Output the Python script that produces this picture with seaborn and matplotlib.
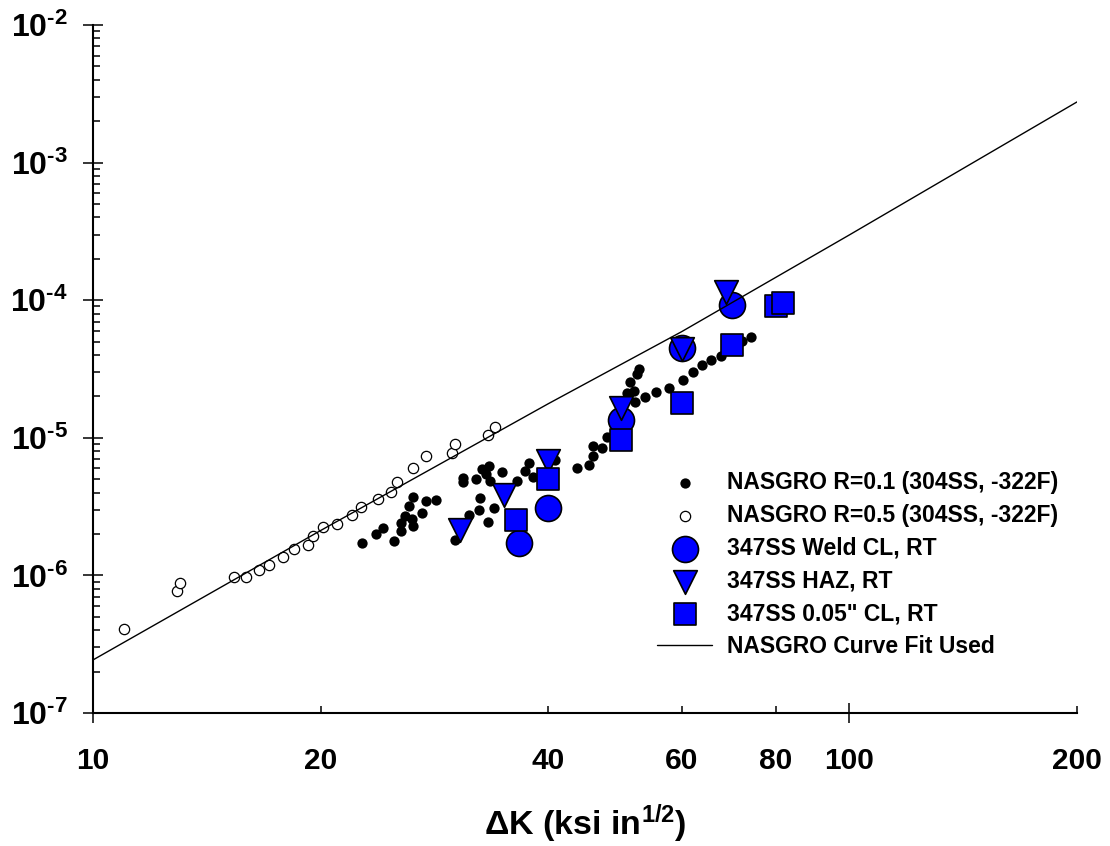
import matplotlib
matplotlib.use("Agg")
import matplotlib.pyplot as plt
import seaborn as sns
from matplotlib.ticker import FixedLocator, FuncFormatter, NullFormatter
import numpy as np

# NASGRO R=0.1 data (304SS, -322F)
dk_r01 = [22.69, 23.68, 24.19, 25.01, 25.55, 25.55, 25.86, 26.18, 26.50, 26.42,
          26.50, 27.24, 27.57, 28.42, 30.12, 30.86, 30.86, 32.11, 32.70, 33.41,
          33.10, 33.51, 34.75, 32.50, 32.40, 33.92, 31.44, 33.31, 36.38, 37.28,
          37.74, 38.19, 40.83, 43.67, 45.30, 45.85, 45.85, 47.13, 47.86, 50.86,
          51.96, 52.12, 53.73, 51.33, 52.44, 52.76, 55.56, 57.81, 60.32, 62.19,
          63.92, 65.70, 67.73, 72.22, 74.19]
dadn_r01 = [1.72e-6, 2.00e-6, 2.21e-6, 1.78e-6, 2.10e-6, 2.40e-6, 2.70e-6, 3.19e-6, 3.71e-6, 2.57e-6,
            2.29e-6, 2.84e-6, 3.47e-6, 3.53e-6, 1.81e-6, 5.10e-6, 4.78e-6, 5.02e-6, 5.93e-6, 6.24e-6,
            5.46e-6, 4.86e-6, 5.64e-6, 3.65e-6, 2.99e-6, 3.09e-6, 2.75e-6, 2.44e-6, 4.86e-6, 5.74e-6,
            6.56e-6, 5.19e-6, 6.90e-6, 6.04e-6, 6.34e-6, 7.38e-6, 8.71e-6, 8.43e-6, 1.014e-5, 2.12e-5,
            2.19e-5, 1.82e-5, 1.98e-5, 2.55e-5, 2.91e-5, 3.16e-5, 2.15e-5, 2.30e-5, 2.63e-5, 3.01e-5,
            3.38e-5, 3.67e-5, 3.93e-5, 5.05e-5, 5.41e-5]

# NASGRO R=0.5 data (304SS, -322F)
dk_r05 = [10.99, 12.91, 13.03, 15.37, 15.94, 16.58, 17.09, 17.84, 18.45, 19.25,
          19.54, 20.15, 21.02, 22.00, 22.62, 23.82, 24.79, 25.24, 26.50, 27.57,
          29.85, 30.12, 33.31, 34.02]
dadn_r05 = [4.07e-7, 7.7e-7, 8.8e-7, 9.7e-7, 9.7e-7, 1.09e-6, 1.19e-6, 1.36e-6, 1.56e-6, 1.66e-6,
            1.93e-6, 2.25e-6, 2.36e-6, 2.75e-6, 3.14e-6, 3.59e-6, 4.04e-6, 4.78e-6, 6.04e-6, 7.38e-6,
            7.76e-6, 9.0e-6, 1.05e-5, 1.20e-5]

# 347SS room-temperature tests
dk_weld = [36.6, 40.0, 49.9, 60.1, 70.0]
dadn_weld = [1.72e-6, 3.09e-6, 1.35e-5, 4.50e-5, 9.23e-5]

dk_haz = [30.6, 35.0, 40.0, 49.9, 60.1, 68.8]
dadn_haz = [2.14e-6, 3.84e-6, 6.78e-6, 1.65e-5, 4.42e-5, 1.15e-4]

dk_cl = [36.3, 40.0, 49.9, 60.1, 70.0, 80.0, 81.8]
dadn_cl = [2.53e-6, 5.02e-6, 9.64e-6, 1.79e-5, 4.72e-5, 9.08e-5, 9.55e-5]

# NASGRO curve fit
dk_fit = [10, 20, 40, 60, 100, 200]
dadn_fit = [2.43e-7, 2.12e-6, 1.77e-5, 5.9e-5, 2.98e-4, 2.76e-3]

x_major = [10, 100]
x_minor = [20, 40, 60, 80, 200]
y_decades = [1e-7, 1e-6, 1e-5, 1e-4, 1e-3, 1e-2]

lbl_r01 = "NASGRO R=0.1 (304SS, -322F)"
lbl_r05 = "NASGRO R=0.5 (304SS, -322F)"
lbl_weld = "347SS Weld CL, RT"
lbl_haz = "347SS HAZ, RT"
lbl_cl = '347SS 0.05" CL, RT'
lbl_fit = "NASGRO Curve Fit Used"

sns.set_theme(style="ticks")
plt.rcParams.update({
    "font.family": ["Liberation Sans", "DejaVu Sans"],
    "font.weight": "bold",
    "mathtext.fontset": "custom",
    "mathtext.rm": "Liberation Sans:bold",
    "mathtext.bf": "Liberation Sans:bold",
    "mathtext.it": "Liberation Sans:bold:italic",
    "text.color": "black",
    "axes.labelcolor": "black",
    "xtick.color": "black",
    "ytick.color": "black",
})

fig = plt.figure(figsize=(11.1, 8.46), dpi=100)
ax = fig.add_axes([93 / 1110, 133 / 846, 984 / 1110, 688 / 846])
ax.set_xscale("log")
ax.set_yscale("log")

blue = "#0000FF"
sns.scatterplot(x=dk_r05, y=dadn_r05, ax=ax, s=55, color="white", edgecolor="black",
                linewidth=0.9, label=lbl_r05, zorder=3)
sns.scatterplot(x=dk_r01, y=dadn_r01, ax=ax, s=55, color="black", edgecolor="black",
                linewidth=0, label=lbl_r01, zorder=4)
sns.scatterplot(x=dk_weld, y=dadn_weld, ax=ax, s=350, marker="o", color=blue,
                edgecolor="black", linewidth=1.2, label=lbl_weld, zorder=5)
sns.scatterplot(x=dk_haz, y=dadn_haz, ax=ax, s=290, marker="v", color=blue,
                edgecolor="black", linewidth=1.2, label=lbl_haz, zorder=6)
sns.scatterplot(x=dk_cl, y=dadn_cl, ax=ax, s=250, marker="s", color=blue,
                edgecolor="black", linewidth=1.2, label=lbl_cl, zorder=7)
sns.lineplot(x=dk_fit, y=dadn_fit, ax=ax, color="black", linewidth=1.0,
             label=lbl_fit, zorder=8)

ax.set_xlim(10, 200)
ax.set_ylim(1e-7, 1e-2)

for side in ("top", "right"):
    ax.spines[side].set_visible(False)
for side in ("left", "bottom"):
    ax.spines[side].set_linewidth(1.5)
    ax.spines[side].set_color("black")

# x ticks
ax.xaxis.set_major_locator(FixedLocator(x_major))
ax.xaxis.set_minor_locator(FixedLocator(x_minor))
ax.xaxis.set_major_formatter(FuncFormatter(lambda v, p: f"{v:g}"))
ax.xaxis.set_minor_formatter(FuncFormatter(lambda v, p: f"{v:g}"))
ax.tick_params(axis="x", which="major", direction="inout", length=14.4, width=1.1,
               labelsize=21.5, pad=17)
ax.tick_params(axis="x", which="minor", direction="in", length=5, width=1.1,
               labelsize=21.5, pad=24.2)

# y ticks: powers of ten with a short hyphen in the exponent
def decade_label(v, p):
    e = int(round(np.log10(v)))
    sign = r"\text{-}" if e < 0 else ""
    return r"$\mathbf{10^{%s%d}}$" % (sign, abs(e))

ax.yaxis.set_major_locator(FixedLocator(y_decades))
ax.yaxis.set_major_formatter(FuncFormatter(decade_label))
y_minor = [m * d for d in y_decades[:-1] for m in range(2, 10)]
ax.yaxis.set_minor_locator(FixedLocator(y_minor))
ax.yaxis.set_minor_formatter(NullFormatter())
ax.tick_params(axis="y", which="major", direction="inout", length=14.4, width=1.1,
               labelsize=23, pad=11)
ax.tick_params(axis="y", which="minor", direction="in", length=5, width=1.1)

ax.set_xlabel(r"ΔK (ksi in$^{\mathbf{1/2}}$)", fontsize=24.5, fontweight="bold", labelpad=20)
ax.set_ylabel("")

handles, labels = ax.get_legend_handles_labels()
hmap = dict(zip(labels, handles))
order = [lbl_r01, lbl_r05, lbl_weld, lbl_haz, lbl_cl, lbl_fit]
ax.legend([hmap[l] for l in order], order, loc="upper left",
          bbox_to_anchor=(657 / 1110, (846 - 471) / 846), bbox_transform=fig.transFigure,
          frameon=False, fontsize=16.5, handlelength=2.4, handletextpad=0.65,
          labelspacing=0.43, borderpad=0, borderaxespad=0, scatterpoints=1)

fig.savefig("out.png", dpi=100, facecolor="white")
